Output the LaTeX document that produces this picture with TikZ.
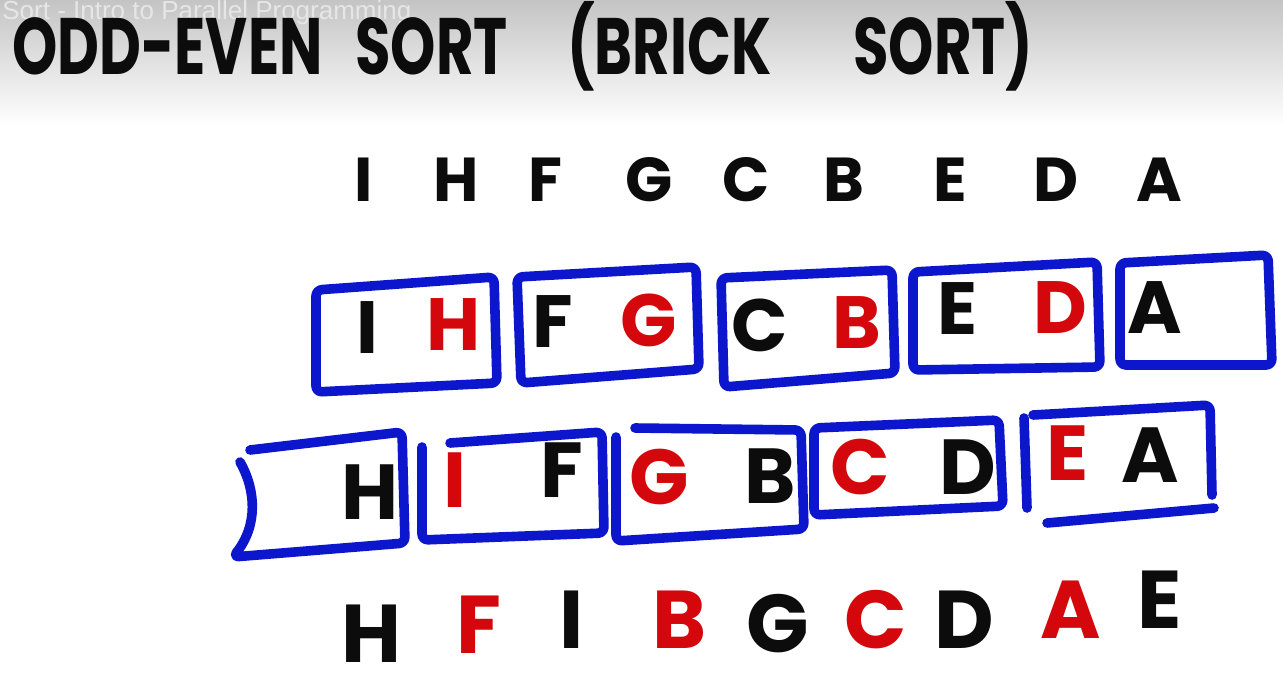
\documentclass[tikz,border=0pt]{standalone}
\usepackage{fontspec}
\setmainfont{Poppins}
\newfontfamily\capfont{Liberation Sans}
\definecolor{brickblue}{RGB}{12,22,205}
\definecolor{swapred}{RGB}{212,8,12}
\definecolor{inkblack}{RGB}{12,12,12}
\definecolor{barfog}{RGB}{196,196,196}
\definecolor{captext}{RGB}{230,230,230}
\newcommand\ttlword[1]{\scalebox{0.72}[1]{#1}}

\begin{document}
\begin{tikzpicture}[x=0.5pt, y=-0.5pt,
  ltr/.style={font=\fontsize{#1}{#1}\selectfont\bfseries, text=inkblack, inner sep=0pt},
  ltr/.default=37,
  swapped/.style={text=swapred},
  ttl/.style={font=\fontsize{40}{40}\selectfont\bfseries, text=inkblack, inner sep=0pt, anchor=base west},
  brick/.style={draw=brickblue, line width=4.8pt, line join=round, line cap=round, rounded corners=3pt}]
\useasboundingbox (0,0) rectangle (1283,681);
\fill[white] (0,0) rectangle (1283,681);
\shade[top color=barfog, bottom color=white] (0,0) rectangle (1283,125);
% video caption and title
\node[font=\capfont\fontsize{13}{13}\selectfont, text=captext, anchor=north west, inner sep=0pt] (cap) at (2,0) {Sort - Intro to Parallel Programming};
\node[ttl] (t1) at (12,74) {\ttlword{ODD-EVEN}};
\node[ttl] (t2) at (355,74) {\ttlword{SORT}};
\node[ttl] (t3) at (567,74) {\ttlword{(BRICK}};
\node[ttl] (t4) at (853,74) {\ttlword{SORT)}};
% input
\node[ltr=31] (in1) at (364,180) {I};
\node[ltr=31] (in2) at (456,180) {H};
\node[ltr=31] (in3) at (545,180) {F};
\node[ltr=31] (in4) at (649,180) {G};
\node[ltr=31] (in5) at (746,180) {C};
\node[ltr=31] (in6) at (844,180) {B};
\node[ltr=31] (in7) at (950,180) {E};
\node[ltr=31] (in8) at (1056,180) {D};
\node[ltr=31] (in9) at (1159,180) {A};
% odd step
\draw[brick] (316,290) -- (494,277) -- (497,383) -- (316,392) -- cycle;
\draw[brick] (517,277) -- (696,267) -- (699,369) -- (521,383) -- cycle;
\draw[brick] (721,278) -- (892,270) -- (895,373) -- (724,387) -- cycle;
\draw[brick] (913,272) -- (1097,262) -- (1100,367) -- (913,370) -- cycle;
\draw[brick] (1120,263) -- (1268,255) -- (1272,365) -- (1120,365) -- cycle;
\node[ltr] (od1) at (367,328) {I};
\node[ltr,swapped] (od2) at (454,325) {H};
\node[ltr] (od3) at (553,322) {F};
\node[ltr,swapped] (od4) at (649,320) {G};
\node[ltr] (od5) at (760,325) {C};
\node[ltr,swapped] (od6) at (857,323) {B};
\node[ltr] (od7) at (958,309) {E};
\node[ltr,swapped] (od8) at (1060,308) {D};
\node[ltr] (od9) at (1155,308) {A};
% even step
\draw[brick] (250,450) -- (402,432) -- (405,543) -- (233,557) .. controls (258,525) and (256,490) .. (240,462);
\draw[brick] (450,443) -- (602,432) -- (604,533) -- (422,540) -- (422,447);
\draw[brick] (635,428) -- (801,430) -- (804,529) -- (616,541) -- (616,437);
\draw[brick] (814,428) -- (999,420) -- (1003,506) -- (814,515) -- cycle;
\draw[brick] (1024,418) -- (1027,508);
\draw[brick] (1033,415) -- (1210,405) -- (1212,495);
\draw[brick] (1047,523) -- (1214,508);
\node[ltr=39] (ev1) at (370,492) {H};
\node[ltr=39,swapped] (ev2) at (455,480) {I};
\node[ltr=39] (ev3) at (562,470) {F};
\node[ltr=39,swapped] (ev4) at (659,477) {G};
\node[ltr=39] (ev5) at (770,476) {B};
\node[ltr=39,swapped] (ev6) at (860,467) {C};
\node[ltr=39] (ev7) at (968,467) {D};
\node[ltr=39,swapped] (ev8) at (1068,453) {E};
\node[ltr=39] (ev9) at (1150,455) {A};
% output
\node[ltr=41] (out1) at (371,634) {H};
\node[ltr=41,swapped] (out2) at (479,625) {F};
\node[ltr=41] (out3) at (572,620) {I};
\node[ltr=41,swapped] (out4) at (680,620) {B};
\node[ltr=41] (out5) at (778,624) {G};
\node[ltr=41,swapped] (out6) at (876,620) {C};
\node[ltr=41] (out7) at (964,620) {D};
\node[ltr=41,swapped] (out8) at (1071,610) {A};
\node[ltr=41] (out9) at (1160,600) {E};
\end{tikzpicture}
\end{document}
